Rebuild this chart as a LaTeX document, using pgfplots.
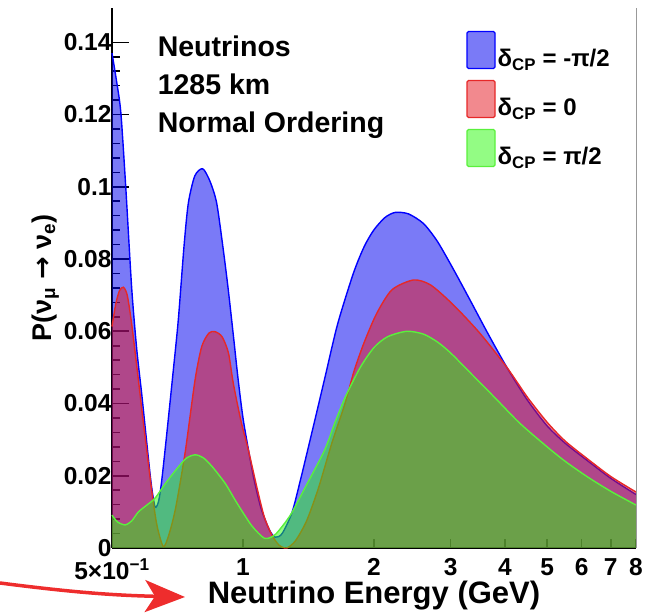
\documentclass[border=0pt]{standalone}
\usepackage{fontspec}
\setmainfont{Liberation Sans}
\newfontfamily\dejavu{DejaVu Sans}
\usepackage{pgfplots}
\usepackage{pgfplotstable}
\pgfplotsset{compat=1.18}
\usetikzlibrary{arrows.meta}
\definecolor{lblue}{RGB}{0,0,255}
\definecolor{lred}{RGB}{230,40,40}
\definecolor{lgreen}{RGB}{90,240,60}
\definecolor{fblue}{RGB}{0,0,240}
\definecolor{fred}{RGB}{230,20,30}
\definecolor{fgreen}{RGB}{40,250,10}
\definecolor{arrowred}{RGB}{238,45,45}

\pgfplotstableread{
x y
0.500 0.137
0.5126 0.129
0.524 0.1205
0.5377 0.100
0.5549 0.072
0.570 0.055
0.585 0.0428
0.600 0.030
0.615 0.018
0.628 0.0114
0.640 0.013
0.651 0.019
0.670 0.033
0.690 0.048
0.710 0.063
0.732 0.0835
0.749 0.0955
0.775 0.103
0.808 0.105
0.840 0.1015
0.870 0.0955
0.900 0.083
0.924 0.072
0.950 0.059
0.975 0.0465
1.000 0.036
1.030 0.027
1.060 0.019
1.100 0.011
1.150 0.005
1.186 0.003
1.230 0.004
1.295 0.0097
1.350 0.018
1.414 0.028
1.480 0.038
1.545 0.0475
1.650 0.062
1.794 0.0761
1.900 0.0835
2.000 0.0881
2.120 0.0915
2.237 0.0929
2.400 0.0925
2.600 0.0898
2.800 0.0848
3.050 0.0770
3.330 0.0685
3.650 0.0595
4.040 0.0500
4.500 0.0410
5.000 0.0338
5.500 0.0290
6.170 0.0243
7.000 0.0193
8.000 0.0148
}\blue

\pgfplotstableread{
x y
0.500 0.0613
0.510 0.0675
0.520 0.0712
0.531 0.0722
0.542 0.0700
0.555 0.0620
0.575 0.0465
0.590 0.0350
0.606 0.0235
0.620 0.0140
0.635 0.0060
0.656 0.0004
0.675 0.0035
0.700 0.0110
0.736 0.0263
0.776 0.0465
0.804 0.0558
0.835 0.0595
0.862 0.0599
0.895 0.0585
0.926 0.0540
0.950 0.0456
0.990 0.0350
1.029 0.0271
1.080 0.0160
1.120 0.0085
1.165 0.0036
1.210 0.0008
1.260 0.0000
1.320 0.0020
1.400 0.0075
1.490 0.0165
1.600 0.0290
1.716 0.0400
1.800 0.0490
1.900 0.0570
2.030 0.0650
2.200 0.0715
2.465 0.0742
2.700 0.0728
3.050 0.0672
3.500 0.0595
4.040 0.0500
4.500 0.0418
5.000 0.0348
5.500 0.0296
6.170 0.0248
7.000 0.0198
8.000 0.0155
}\red

\pgfplotstableread{
x y
0.500 0.0091
0.515 0.0072
0.536 0.0064
0.555 0.0075
0.575 0.0100
0.600 0.0118
0.628 0.0138
0.660 0.0175
0.700 0.0215
0.740 0.0248
0.776 0.0258
0.810 0.0250
0.850 0.0225
0.910 0.0179
0.959 0.0133
1.000 0.0098
1.050 0.0060
1.120 0.0027
1.180 0.0035
1.240 0.0065
1.295 0.0098
1.400 0.0175
1.540 0.0271
1.630 0.0350
1.720 0.0419
1.860 0.0500
2.000 0.0555
2.150 0.0585
2.380 0.0600
2.600 0.0592
2.800 0.0570
3.000 0.0540
3.330 0.0485
3.800 0.0415
4.330 0.0345
5.000 0.0280
5.500 0.0240
6.170 0.0198
7.000 0.0157
8.000 0.0119
}\green

\begin{document}
\begin{tikzpicture}
\begin{axis}[
  scale only axis,
  width=524pt, height=540pt,
  xmode=log, xmin=0.5, xmax=8,
  ymin=0, ymax=0.1495,
  axis x line*=bottom, axis y line*=left,
  x axis line style={-}, y axis line style={-},
  axis line style={line width=1.6pt, black},
  xtick=\empty,
  extra x ticks={0.5,1,2,3,4,5,6,7,8},
  extra x tick labels={5×10\textsuperscript{−1},1,2,3,4,5,6,7,8},
  extra x tick style={major tick length=9pt},
  minor xtick={0.6,0.7,0.8,0.9},
  ytick={0,0.02,0.04,0.06,0.08,0.1,0.12,0.14},
  yticklabels={0,0.02,0.04,0.06,0.08,0.1,0.12,0.14},
  minor y tick num=4,
  scaled y ticks=false,
  tick align=inside,
  major tick length=17pt, minor tick length=8pt,
  tick style={line width=1.6pt, black},
  /pgf/number format/assume math mode=true,
  tick label style={font=\fontsize{24.5}{27}\selectfont\bfseries},
  yticklabel style={xshift=3pt},
  xticklabel style={yshift=-7pt},
  xlabel={Neutrino Energy (GeV)},
  ylabel={P(ν\textsubscript{μ} {\dejavu\bfseries →} ν\textsubscript{e})},
  xlabel style={font=\fontsize{31}{34}\selectfont\bfseries, yshift=5pt},
  ylabel style={font=\fontsize{27}{30}\selectfont\bfseries, yshift=-2pt},
  legend style={at={(rel axis cs:0.676,0.958)}, anchor=north west, draw=none, fill=none,
    font=\fontsize{24}{28}\selectfont\bfseries, row sep=10pt, inner sep=0pt},
  legend cell align=left,
  legend image code/.code={\draw[#1, rounded corners=1.5pt] (0pt,-10pt) rectangle (28pt,27pt);},
  clip=false,
]
\addplot[forget plot, draw=none, fill=fblue, fill opacity=0.52, smooth, tension=0.45] table {\blue} \closedcycle;
\addplot[forget plot, lblue, line width=1.4pt, smooth, tension=0.45] table {\blue};
\addplot[forget plot, draw=none, fill=fred, fill opacity=0.5, smooth, tension=0.45] table {\red} \closedcycle;
\addplot[forget plot, lred, line width=1.4pt, smooth, tension=0.45] table {\red};
\addplot[forget plot, draw=none, fill=fgreen, fill opacity=0.5, smooth, tension=0.45] table {\green} \closedcycle;
\addplot[forget plot, lgreen, line width=1.4pt, smooth, tension=0.45] table {\green};

\addlegendimage{draw=lblue, fill=fblue, fill opacity=0.52, line width=1.2pt}
\addlegendentry{δ\textsubscript{CP} = -π/2}
\addlegendimage{draw=lred, fill=fred, fill opacity=0.5, line width=1.2pt}
\addlegendentry{δ\textsubscript{CP} = 0}
\addlegendimage{draw=lgreen, fill=fgreen, fill opacity=0.5, line width=1.2pt}
\addlegendentry{δ\textsubscript{CP} = π/2}

\node[anchor=north west, align=left, inner sep=0pt, font=\fontsize{28.5}{38}\selectfont\bfseries]
  at (rel axis cs:0.087,0.948) {Neutrinos\\1285 km\\Normal Ordering};
\coordinate (SW) at (rel axis cs:0,0);
\coordinate (SE) at (rel axis cs:1,0);
\coordinate (NE) at (rel axis cs:1,1);
\end{axis}
\draw[gray!80, line width=1pt] (SE) -- (NE);
\draw[arrowred, line width=3.5pt, -{Stealth[length=40pt,width=32pt,inset=10pt]}]
  ([xshift=-112pt,yshift=-35pt]SW) to[bend right=3] ([xshift=73pt,yshift=-49pt]SW);
\pgfresetboundingbox
\path ([xshift=-112pt,yshift=-67pt]SW) rectangle ([xshift=541pt,yshift=548pt]SW);
\end{tikzpicture}
\end{document}
